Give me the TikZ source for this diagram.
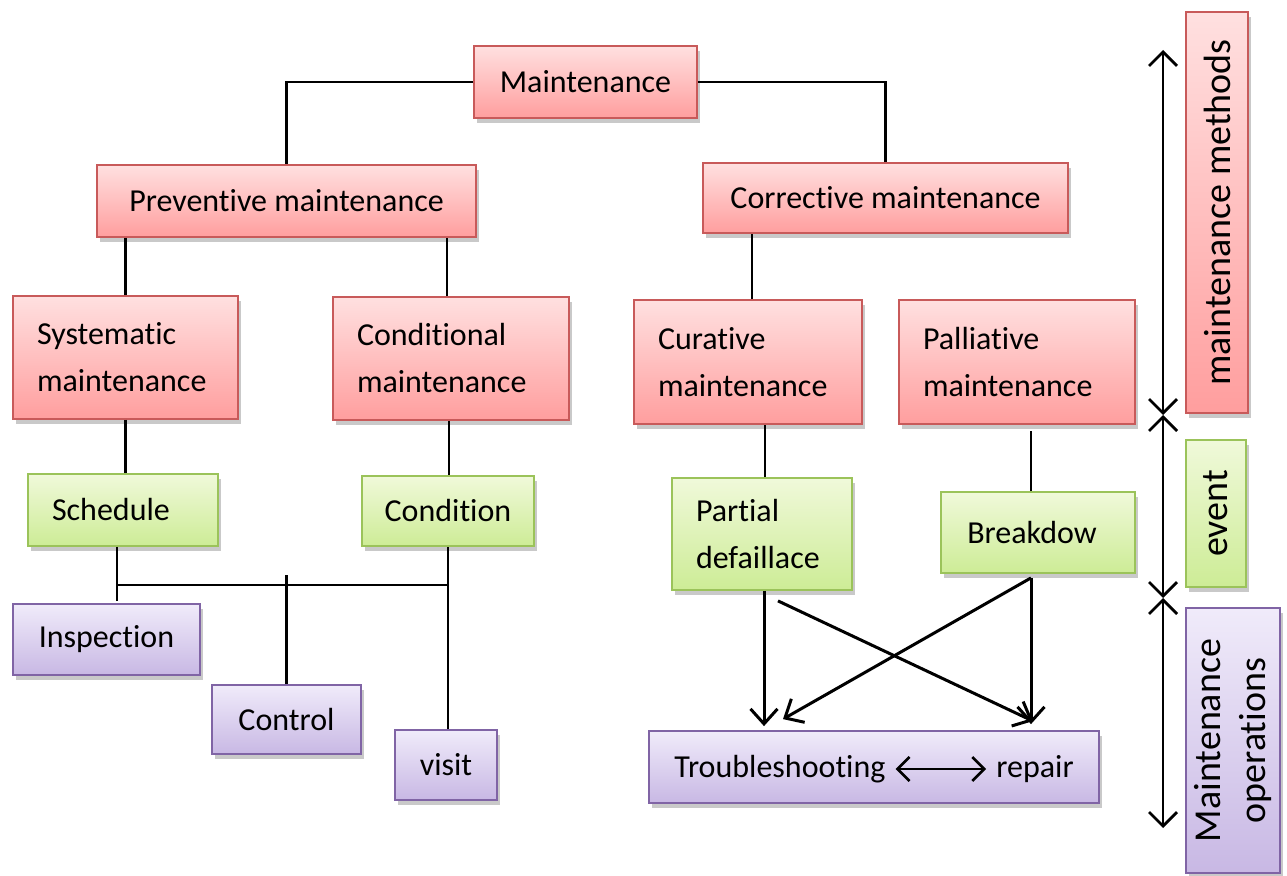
\documentclass[tikz,border=0pt]{standalone}
\usepackage{fontspec}
\setmainfont{Carlito}[Ligatures=NoCommon]
\usetikzlibrary{arrows.meta,shadows}
\definecolor{redline}{RGB}{200,90,90}
\definecolor{redtop}{RGB}{255,224,224}
\definecolor{redbot}{RGB}{255,158,158}
\definecolor{grnline}{RGB}{155,195,90}
\definecolor{grntop}{RGB}{240,249,218}
\definecolor{grnbot}{RGB}{205,236,150}
\definecolor{purline}{RGB}{128,100,165}
\definecolor{purtop}{RGB}{240,235,250}
\definecolor{purbot}{RGB}{200,184,228}
\begin{document}
\begin{tikzpicture}[x=1pt,y=-1pt,
  box/.style={draw, line width=1.8pt, inner sep=0pt,
    font=\fontsize{32}{47}\selectfont,
    drop shadow={shadow xshift=3pt, shadow yshift=-5pt, opacity=0.3, fill=black!70}},
  redbox/.style={box, draw=redline, top color=redtop, bottom color=redbot},
  grnbox/.style={box, draw=grnline, top color=grntop, bottom color=grnbot},
  purbox/.style={box, draw=purline, top color=purtop, bottom color=purbot},
  lbox/.style={inner xsep=24pt, inner ysep=0pt, align=left},
  side/.style={font=\fontsize{38}{45}\selectfont},
  txt/.style={inner sep=0pt, font=\fontsize{32}{47}\selectfont},
  ln/.style={draw=black, line width=2.4pt},
  arr/.style={line width=3pt, -{Straight Barb[length=15pt,width=27pt,line width=3pt]}},
  dbl/.style={line width=2.8pt, {Straight Barb[length=14pt,width=28pt,line width=2.8pt]}-{Straight Barb[length=14pt,width=28pt,line width=2.8pt]}},
  ]
\useasboundingbox (0,0) rectangle (1287,875);

% method level
\node[redbox, minimum width=223pt, minimum height=72pt] (maint) at (585.5,82) {Maintenance};
\node[redbox, minimum width=379pt, minimum height=72pt] (prev) at (286.5,201) {Preventive maintenance};
\node[redbox, minimum width=365pt, minimum height=70pt] (corr) at (885.5,198) {Corrective maintenance};
\node[redbox, lbox, text width=177pt, minimum height=123pt] (sys) at (125.5,357.5) {Systematic\\maintenance};
\node[redbox, lbox, text width=188pt, minimum height=123pt] (cond) at (451,358.5) {Conditional\\maintenance};
\node[redbox, lbox, text width=180pt, minimum height=124pt] (cur) at (748,362) {Curative\\maintenance};
\node[redbox, lbox, text width=188pt, minimum height=124pt] (pal) at (1017,362) {Palliative\\maintenance};

% event level
\node[grnbox, lbox, text width=142pt, minimum height=72pt] (sched) at (123,510) {Schedule};
\node[grnbox, minimum width=172pt, minimum height=70pt] (cnd) at (448,511) {Condition};
\node[grnbox, lbox, text width=132pt, minimum height=112pt] (part) at (762,534) {Partial\\defaillace};
\node[grnbox, minimum width=194pt, minimum height=81pt] (brk) at (1038,532.5) {\hspace*{-12pt}Breakdow};

% operation level
\node[purbox, minimum width=187pt, minimum height=71pt] (insp) at (106.5,639.5) {Inspection};
\node[purbox, minimum width=149pt, minimum height=69pt] (ctrl) at (286.5,719.5) {Control};
\node[purbox, minimum width=102pt, minimum height=70pt] (vis) at (446,765) {visit};
\node[purbox, minimum width=450pt, minimum height=72pt] (trb) at (874,767) {};
\node[txt] (ts) at (780,769) {Troubleshooting};
\node[txt] (rep) at (1035,769) {repair};
\draw[line width=2.6pt, {Straight Barb[length=12pt,width=24pt,line width=2.6pt]}-{Straight Barb[length=12pt,width=24pt,line width=2.6pt]}, shorten <=10pt, shorten >=10pt] (ts.east) -- (rep.west);

% side legend
\node[redbox, side, rotate=90, minimum width=401pt, minimum height=62pt] (mm) at (1217,212.5) {maintenance methods};
\node[grnbox, side, rotate=90, minimum width=147pt, minimum height=60pt] (ev) at (1216,513.5) {event};
\node[purbox, side, rotate=90, minimum width=265pt, minimum height=94pt, align=center] (ops) at (1233,740.5) {Maintenance\\operations};

\coordinate (s1) at (1163,50);
\coordinate (s2) at (1163,415);
\coordinate (s3) at (1163,598);
\coordinate (s4) at (1163,828);
\draw[dbl] (s1) -- (s2);
\draw[dbl] (s2) -- (s3);
\draw[dbl] (s3) -- (s4);

% tree connectors
\draw[ln] (maint.west) -| (prev.north);
\draw[ln] (maint.east) -| (corr.north);
\draw[ln] (sys.north) -- (sys.north |- prev.south);
\path (cond.north) ++(-4,0) coordinate (c1);
\draw[ln] (c1) -- (c1 |- prev.south);
\path (cur.north) ++(4,0) coordinate (c2);
\draw[ln] (c2) -- (c2 |- corr.south);
\draw[ln] (sys.south) -- (sys.south |- sched.north);
\path (cond.south) ++(-2,0) coordinate (c3);
\draw[ln] (c3) -- (c3 |- cnd.north);
\path (part.north) ++(3,0) coordinate (c4);
\draw[ln] (c4) -- (c4 |- cur.south);
\path (brk.north) ++(-7,0) coordinate (c5);
\path (pal.south) ++(0,6) coordinate (c6);
\draw[ln] (c5) -- (c5 |- c6);

% operations bus
\path (sched.south) ++(-6,0) coordinate (sL);
\draw[ln] (sL) -- ([yshift=2pt]sL |- insp.north);
\path (sL) ++(0,38) coordinate (busL);
\path (vis.north) ++(2,0) coordinate (vN);
\draw[ln] (vN) -- (vN |- cnd.south);
\draw[ln] (busL) -- (busL -| vN);
\path (ctrl.north) ++(0,-109) coordinate (cT);
\draw[ln] (ctrl.north) -- (cT);

% event to operation arrows
\path (part.south) ++(2,0) coordinate (pA);
\draw[arr, shorten >=4pt] (pA) -- (pA |- trb.north);
\path (part.south) ++(16,10) coordinate (pB);
\path (trb.north) ++(159,-9) coordinate (rA);
\draw[arr] (pB) -- (rA);
\path (brk.south) ++(-7,4) coordinate (bA);
\path (trb.north) ++(-91,-11) coordinate (tA);
\draw[arr] (bA) -- (tA);
\draw[arr, shorten >=6pt] (bA) -- (bA |- trb.north);
\end{tikzpicture}
\end{document}
